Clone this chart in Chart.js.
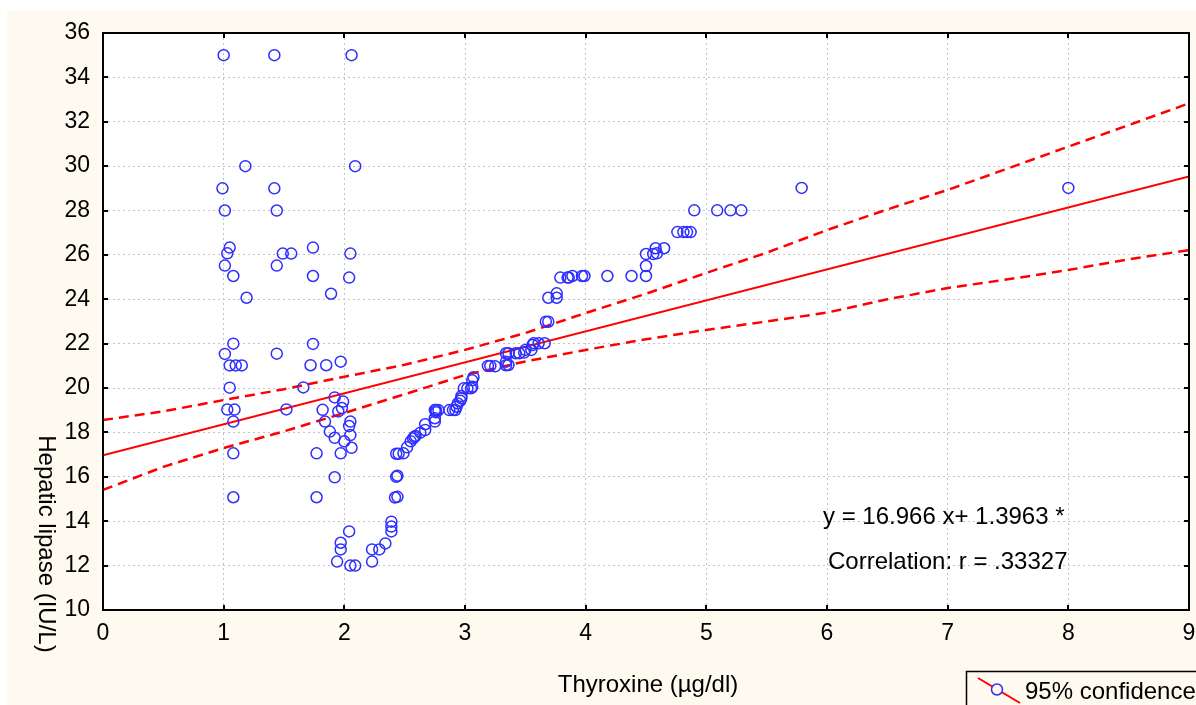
<!DOCTYPE html>
<html><head><meta charset="utf-8">
<script src="https://cdn.jsdelivr.net/npm/chart.js@4.4.1/dist/chart.umd.min.js"></script>
<style>html,body{margin:0;padding:0;background:#fff;overflow:hidden}</style>
</head><body>
<canvas id="c" width="1196" height="705" style="display:block;width:1196px;height:705px"></canvas>
<script>
// ---- data ----
const xTickValues = [0,1,2,3,4,5,6,7,8,9];
const yTickValues = [10,12,14,16,18,20,22,24,26,28,30,32,34,36];

const pointsX = [
 1.00,0.99,1.01,1.05,1.03,1.01,1.08,1.19,1.08,1.01,1.05,1.10,1.15,1.05,1.03,1.09,1.08,1.08,1.08,1.18,
 1.42,1.42,1.44,1.49,1.56,1.44,1.44,1.52,1.66,
 2.06,2.09,1.74,1.74,1.89,2.05,2.04,1.74,1.72,1.85,1.97,1.92,1.99,1.82,1.98,1.95,1.84,2.05,2.04,1.88,2.05,1.92,2.00,2.06,1.77,1.97,1.92,1.77,2.04,1.97,1.97,1.94,2.05,2.09,
 2.23,2.23,2.29,2.34,2.39,2.39,2.39,2.42,2.44,2.43,2.44,2.43,2.45,2.49,
 2.52,2.55,2.57,2.58,2.59,2.63,2.67,2.67,2.75,2.75,2.76,2.76,2.75,2.78,2.87,2.90,2.92,2.93,2.94,2.96,2.97,2.97,2.99,3.02,3.05,3.06,3.06,3.07,
 3.19,3.21,3.25,3.34,3.34,3.36,3.34,3.36,3.42,3.45,3.49,3.50,3.55,3.56,3.57,3.61,3.66,3.67,3.69,3.69,3.76,3.76,
 3.79,3.85,3.86,3.89,3.97,3.99,4.18,4.38,4.50,4.50,4.50,4.56,4.59,4.58,4.65,4.76,4.81,4.84,4.87,4.90,5.09,5.20,5.29,5.79,8.00
];
const pointsY = [
 35,29,28,26.33,26.07,25.52,25.05,24.07,22.0,21.54,21.02,21.02,21.02,20.02,19.03,19.03,18.49,17.06,15.08,30,
 35,29,28,26.06,26.06,25.52,21.55,19.04,20.03,
 35,30,26.33,25.05,24.25,26.06,24.98,21.99,21.03,21.03,21.19,19.58,19.39,19.02,19.10,18.95,18.49,18.49,18.29,18.04,17.88,17.76,17.60,17.31,17.06,17.06,15.98,15.08,13.54,13.03,12.73,12.18,12.0,12.0,
 12.18,12.73,12.73,13.0,13.54,13.76,13.98,15.07,15.10,16.0,16.05,17.04,17.04,17.06,
 17.33,17.60,17.73,17.80,17.84,17.99,18.11,18.37,18.49,18.64,18.91,19.01,19.01,19.01,19.01,19.01,19.01,19.16,19.31,19.43,19.54,19.64,19.99,19.99,19.99,20.06,20.35,20.49,
 21.0,21.0,20.98,21.03,21.19,21.04,21.57,21.57,21.57,21.57,21.60,21.72,21.72,21.94,22.02,22.02,22.02,22.99,22.99,24.07,24.07,24.27,
 24.98,24.98,24.98,25.05,25.05,25.05,25.05,25.05,25.05,25.5,26.04,26.04,26.07,26.3,26.3,27.03,27.03,27.03,27.03,28.01,28.01,28.01,28.01,29.02,29.02
];

const fitX = [0, 9];
const fitY = [16.97, 29.53];

const bandX     = [0, 0.5, 1, 1.5, 2, 2.5, 3, 3.5, 4, 4.5, 5, 5.5, 6, 6.5, 7, 7.5, 8, 8.5, 9];
const bandUpper = [18.56, 18.95, 19.46, 19.95, 20.51, 21.05, 21.72, 22.48, 23.38, 24.25, 25.19, 26.10, 27.12, 28.05, 28.93, 29.90, 30.88, 31.85, 32.83];
const bandLower = [15.41, 16.45, 17.30, 18.05, 18.88, 19.72, 20.59, 21.20, 21.72, 22.20, 22.62, 23.00, 23.40, 24.00, 24.51, 24.90, 25.32, 25.80, 26.22];

const xTitle = 'Thyroxine (µg/dl)';
const yTitle = 'Hepatic lipase (IU/L)';
const eqText = 'y = 16.966 x+ 1.3963 *';
const corrText = 'Correlation: r = .33327';
const legendText = '95% confidence';

// ---- styles ----
const FONT = '"Liberation Sans", Arial, sans-serif';
const CREAM = '#fefaf0';
const BLUE = '#2e2eff';
const RED = '#ff0000';

const zip = (xs, ys) => xs.map((x, i) => ({x, y: ys[i]}));

const framePlugin = {
  id: 'frame',
  beforeDraw(chart) {
    const ctx = chart.ctx, a = chart.chartArea;
    ctx.save();
    ctx.fillStyle = '#ffffff';
    ctx.fillRect(0, 0, chart.width, chart.height);
    ctx.fillStyle = CREAM;
    ctx.fillRect(7, 11, chart.width - 7, chart.height - 11);
    ctx.fillStyle = '#ffffff';
    ctx.fillRect(a.left, a.top, a.right - a.left, a.bottom - a.top);
    ctx.restore();
  },
  afterDraw(chart) {
    const ctx = chart.ctx, a = chart.chartArea;
    const xs = chart.scales.x, ys = chart.scales.y;
    ctx.save();
    ctx.strokeStyle = '#000';
    ctx.lineWidth = 2;
    ctx.strokeRect(a.left, a.top, a.right - a.left, a.bottom - a.top);
    const tl = 5;
    ctx.beginPath();
    xTickValues.forEach(v => {
      const px = Math.round(xs.getPixelForValue(v));
      ctx.moveTo(px, a.bottom); ctx.lineTo(px, a.bottom - tl);
      ctx.moveTo(px, a.top); ctx.lineTo(px, a.top + tl);
    });
    yTickValues.forEach(v => {
      const py = Math.round(ys.getPixelForValue(v));
      ctx.moveTo(a.left, py); ctx.lineTo(a.left + tl, py);
      ctx.moveTo(a.right, py); ctx.lineTo(a.right - tl, py);
    });
    ctx.stroke();

    // axis titles
    ctx.fillStyle = '#000';
    ctx.font = '24px ' + FONT;
    ctx.textAlign = 'center';
    ctx.textBaseline = 'middle';
    ctx.fillText(xTitle, 648, 685);
    ctx.save();
    ctx.translate(46, 544);
    ctx.rotate(Math.PI / 2);
    ctx.fillText(yTitle, 0, 0);
    ctx.restore();

    // annotations
    ctx.textAlign = 'left';
    ctx.fillText(eqText, 823, 517);
    ctx.fillText(corrText, 828, 562);

    // legend (cut off at the window edge)
    ctx.lineWidth = 1.5;
    ctx.strokeStyle = '#000';
    ctx.strokeRect(966.5, 671.5, 400, 100);
    ctx.strokeStyle = RED;
    ctx.lineWidth = 2;
    ctx.beginPath();
    ctx.moveTo(978, 678); ctx.lineTo(1020, 703);
    ctx.stroke();
    ctx.fillStyle = CREAM;
    ctx.strokeStyle = BLUE;
    ctx.lineWidth = 1.5;
    ctx.beginPath();
    ctx.arc(997, 689.5, 5.5, 0, Math.PI * 2);
    ctx.fill();
    ctx.stroke();
    ctx.fillStyle = '#000';
    ctx.font = '24px ' + FONT;
    ctx.textBaseline = 'alphabetic';
    ctx.fillText(legendText, 1025, 699);
    ctx.restore();
  }
};

new Chart(document.getElementById('c'), {
  type: 'scatter',
  data: {
    datasets: [
      { label: 'upper', data: zip(bandX, bandUpper), showLine: true, borderColor: RED, borderWidth: 2.5,
        borderDash: [10, 6], pointRadius: 0, fill: false, order: 2 },
      { label: 'lower', data: zip(bandX, bandLower), showLine: true, borderColor: RED, borderWidth: 2.5,
        borderDash: [10, 6], pointRadius: 0, fill: false, order: 2 },
      { label: 'fit', data: zip(fitX, fitY), showLine: true, borderColor: RED, borderWidth: 2,
        pointRadius: 0, fill: false, order: 2 },
      { label: 'points', data: zip(pointsX, pointsY), showLine: false, pointStyle: 'circle',
        pointRadius: 5.5, pointBorderWidth: 1.5, pointBorderColor: BLUE, pointBackgroundColor: 'rgba(0,0,0,0)',
        borderColor: BLUE, backgroundColor: 'rgba(0,0,0,0)', order: 1 }
    ]
  },
  options: {
    responsive: false,
    animation: false,
    devicePixelRatio: 1,
    layout: { padding: { left: 0, top: 33, right: 4, bottom: 0 } },
    plugins: { legend: { display: false }, tooltip: { enabled: false } },
    scales: {
      x: {
        type: 'linear', min: 0, max: 9,
        afterBuildTicks: s => { s.ticks = xTickValues.map(v => ({ value: v })); },
        afterFit: s => { s.height = 95; s.paddingLeft = 0; s.paddingRight = 0; },
        grid: { color: '#c4c4c4', lineWidth: 1, drawTicks: false },
        border: { display: false, dash: [2, 3] },
        ticks: { color: '#000', font: { family: FONT, size: 23 }, padding: 10, maxRotation: 0,
                 callback: v => String(v) }
      },
      y: {
        type: 'linear', min: 10, max: 36,
        afterBuildTicks: s => { s.ticks = yTickValues.map(v => ({ value: v })); },
        afterFit: s => { s.width = 103; s.paddingTop = 0; s.paddingBottom = 0; },
        grid: { color: '#c4c4c4', lineWidth: 1, drawTicks: false },
        border: { display: false, dash: [2, 3] },
        ticks: { color: '#000', font: { family: FONT, size: 23 }, padding: 13,
                 callback: v => String(v) }
      }
    }
  },
  plugins: [framePlugin]
});
</script>
</body></html>
